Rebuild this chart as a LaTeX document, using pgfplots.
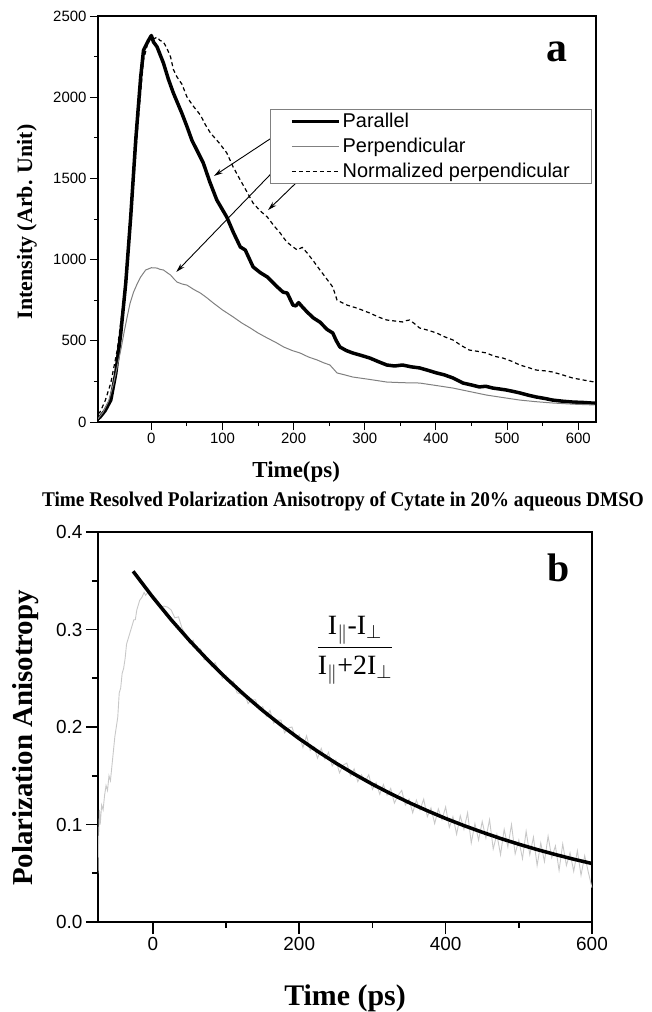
\RequirePackage{fix-cm}
\documentclass[border=0pt]{standalone}
\usepackage{amsmath}
\usepackage{fontspec}
\setmainfont{Liberation Sans}
\newfontfamily\tnr{Liberation Serif}
\newfontfamily\tnrc{Liberation Serif}[FakeStretch=0.92]
\usepackage{pgfplots}
\pgfplotsset{compat=1.18}
\usetikzlibrary{arrows.meta}

\definecolor{perpgray}{RGB}{128,128,128}
\definecolor{rawgray}{RGB}{200,200,200}

\begin{document}
\begin{tikzpicture}
\useasboundingbox (0,0) rectangle (652bp,-1012bp);

% ---------------- panel a ----------------
\begin{axis}[
  at={(98bp,-422bp)}, anchor=south west,
  scale only axis, width=498bp, height=406bp,
  xmin=-75, xmax=625, ymin=0, ymax=2500,
  xtick={0,100,...,600}, ytick={0,500,...,2500},
  minor x tick num=1, minor y tick num=1,
  xtick pos=left, ytick pos=left, tick align=outside,
  major tick length=8bp, minor tick length=4bp,
  every tick/.style={black, line width=1bp},
  axis line style={line width=1.3bp},
  /pgf/number format/1000 sep={},
  /pgf/number format/assume math mode=true,
  tick label style={font=\fontsize{15}{18}\selectfont},
  xlabel={Time(ps)},
  xlabel style={at={(axis description cs:0.398,0)}, anchor=base, yshift=-55bp,
    font=\tnr\bfseries\fontsize{23}{26}\selectfont},
  ylabel={Intensity (Arb. Unit)},
  ylabel style={at={(axis description cs:-0.1325,0.493)}, anchor=base,
    font=\tnr\bfseries\fontsize{22}{26}\selectfont},
  legend style={at={(0.345,0.771)}, anchor=north west, draw=perpgray,
    line width=0.8bp, inner xsep=20bp, inner ysep=2bp,
    font=\fontsize{20}{22}\selectfont, row sep=5bp},
  legend cell align=left,
  legend image code/.code={\draw[#1] (0bp,0bp) -- (47bp,0bp);},
]
\addplot[black, line width=3.5bp, line join=round] coordinates {
(-75,20) (-72,31) (-65,70) (-57,135) (-50,300) (-43,545) (-36,855) (-29,1265)
(-22,1735) (-15,2125) (-11,2290) (-4,2350) (0,2380) (3,2340) (8,2310) (17,2210)
(24,2110) (31,2025) (43,1900) (50,1820) (57,1735) (65,1665) (73,1595) (82,1480)
(92,1367) (106,1262) (115,1170) (125,1078) (132,1059) (143,955) (153,920) (163,893)
(175,840) (185,800) (191,794) (199,720) (203,715) (207,735) (212,710) (219,677)
(228,640) (237,615) (247,570) (255,548) (260,500) (265,462) (274,440) (283,425)
(295,410) (307,394) (320,370) (331,351) (342,345) (353,351) (365,340) (377,333)
(389,318) (401,302) (412,290) (424,271) (438,240) (450,228) (461,216) (470,220)
(480,209) (490,203) (499,197) (510,187) (518,179) (530,165) (541,154) (553,145)
(564,135) (578,128) (592,123) (608,120) (625,115)
};
\addlegendentry{Parallel}
\addplot[perpgray, line width=1bp] coordinates {
(-75,20) (-68,60) (-60,130) (-53,240) (-48,340) (-43,443) (-38,560) (-34,647)
(-30,730) (-25,800) (-20,850) (-15,893) (-8,936) (0,950) (8,948) (12,940)
(17,936) (22,920) (27,905) (32,880) (36,862) (43,850) (50,843) (60,815)
(69,794) (78,765) (87,733) (100,690) (115,647) (127,610) (139,579) (150,548)
(163,517) (175,490) (186,462) (198,440) (209,425) (221,400) (233,382) (242,365)
(251,351) (261,302) (272,290) (283,277) (307,262) (331,246) (354,242) (377,240)
(400,225) (424,209) (447,188) (471,166) (495,150) (518,135) (541,125) (564,117)
(592,110) (623,105)
};
\addlegendentry{Perpendicular}
\addplot[black, line width=1.2bp, dash pattern=on 4bp off 3bp] coordinates {
(-75,50) (-72,62) (-65,130) (-57,240) (-48,443) (-39,751) (-32,1060) (-25,1472)
(-18,1878) (-11,2230) (-4,2350) (0,2370) (4,2360) (8,2370) (12,2350) (17,2340)
(22,2300) (27,2248) (31,2170) (36,2125) (43,2080) (50,2002) (58,1950) (69,1890)
(76,1830) (83,1780) (95,1720) (106,1657) (115,1570) (125,1490) (134,1420) (143,1348)
(153,1300) (163,1262) (172,1210) (181,1164) (190,1110) (199,1078) (205,1060) (212,1075)
(219,1041) (228,990) (237,936) (245,890) (255,831) (261,751) (268,735) (275,720)
(290,700) (307,671) (320,645) (331,628) (342,622) (353,616) (358,624) (363,628)
(370,605) (377,579) (389,565) (401,548) (412,525) (424,505) (436,470) (447,443)
(459,435) (471,425) (482,405) (494,394) (506,375) (518,351) (530,335) (541,320)
(553,315) (564,308) (578,290) (592,271) (608,258) (623,246)
};
\addlegendentry{Normalized perpendicular}
\draw[-{Stealth[length=9bp,width=5bp]}, line width=0.9bp] (axis cs:190,1810) -- (axis cs:88,1515);
\draw[-{Stealth[length=9bp,width=5bp]}, line width=0.9bp] (axis cs:195,1650) -- (axis cs:35,924);
\draw[-{Stealth[length=9bp,width=5bp]}, line width=0.9bp] (axis cs:209,1496) -- (axis cs:164,1305);
\node[font=\tnr\bfseries\fontsize{42}{44}\selectfont] at (axis description cs:0.922,0.911) {a};
\end{axis}

% ---------------- panel b ----------------
\begin{axis}[
  at={(98bp,-922bp)}, anchor=south west,
  scale only axis, width=494bp, height=390bp,
  xmin=-75, xmax=600, ymin=0, ymax=0.4,
  xtick={0,200,...,600}, ytick={0,0.1,...,0.4},
  minor x tick num=1, minor y tick num=1,
  xtick pos=left, ytick pos=left, tick align=outside,
  major tick length=12bp, minor tick length=6bp,
  every tick/.style={black, line width=1.6bp},
  axis line style={line width=2bp},
  yticklabel style={/pgf/number format/.cd, fixed, fixed zerofill, precision=1},
  /pgf/number format/assume math mode=true,
  tick label style={font=\fontsize{19}{22}\selectfont},
  title={Time Resolved Polarization Anisotropy of Cytate in 20\% aqueous DMSO},
  title style={at={(axis description cs:0.496,1)}, anchor=base, yshift=20bp,
    font=\tnrc\bfseries\fontsize{21}{23}\selectfont},
  xlabel={Time (ps)},
  xlabel style={at={(axis description cs:0.5,0)}, anchor=base, yshift=-83bp,
    font=\tnr\bfseries\fontsize{30}{32}\selectfont},
  ylabel={Polarization Anisotropy},
  ylabel style={at={(axis description cs:-0.1316,0.472)}, anchor=base,
    font=\tnr\bfseries\fontsize{29}{32}\selectfont},
]
\addplot[rawgray, line width=0.9bp] coordinates {
(-75,0.050) (-74,0.090) (-73,0.115) (-72,0.100) (-70,0.120) (-68,0.115) (-66,0.130)
(-64,0.140) (-62,0.135) (-60,0.150) (-58,0.145) (-56,0.160) (-54,0.175) (-52,0.190)
(-50,0.200) (-48,0.210) (-46,0.235) (-44,0.240) (-42,0.255) (-40,0.260) (-38,0.270)
(-36,0.285) (-34,0.290) (-32,0.295) (-30,0.300) (-28,0.305) (-26,0.310) (-24,0.310)
(-22,0.320) (-20,0.325) (-18,0.330) (-15,0.333) (-12,0.338) (-10,0.335) (-7,0.338)
(-4,0.336) (0,0.335)
(5,0.331) (10,0.322) (15,0.324) (20,0.323) (25,0.320) (30,0.312) (35,0.313) (40,0.301)
(45,0.295) (50,0.286) (55,0.289) (60,0.279) (65,0.280) (70,0.269) (75,0.271) (80,0.262)
(85,0.266) (90,0.258) (95,0.250) (100,0.253) (105,0.245) (110,0.247) (115,0.235) (120,0.234)
(125,0.235) (130,0.224) (135,0.228) (140,0.228) (145,0.218) (150,0.221) (155,0.211) (160,0.217)
(165,0.204) (170,0.207) (175,0.207) (180,0.194) (185,0.199) (190,0.200) (195,0.189) (200,0.192)
(205,0.179) (210,0.191) (215,0.176) (220,0.180) (225,0.168) (230,0.178) (235,0.167) (240,0.174)
(245,0.160) (250,0.166) (255,0.153) (260,0.161) (265,0.163) (270,0.150) (275,0.157) (280,0.144)
(285,0.151) (290,0.144) (295,0.151) (300,0.136) (305,0.143) (310,0.131) (315,0.141) (320,0.130)
(325,0.137) (330,0.122) (335,0.130) (340,0.135) (345,0.120) (350,0.126) (355,0.112) (360,0.125)
(365,0.115) (370,0.126) (375,0.108) (380,0.117) (385,0.101) (390,0.116) (395,0.105) (400,0.118)
(405,0.097) (410,0.108) (415,0.090) (420,0.109) (425,0.095) (430,0.112) (435,0.081) (440,0.101)
(445,0.084) (450,0.103) (455,0.086) (460,0.105) (465,0.075) (470,0.090) (475,0.069) (480,0.095)
(485,0.077) (490,0.100) (495,0.070) (500,0.084) (505,0.065) (510,0.093) (515,0.069) (520,0.087)
(525,0.058) (530,0.081) (535,0.062) (540,0.088) (545,0.066) (550,0.078) (555,0.053) (560,0.080)
(565,0.058) (570,0.071) (575,0.052) (580,0.073) (585,0.048) (590,0.068) (595,0.051) (600,0.035)
};
\addplot[black, line width=3.5bp] coordinates {
(-27,0.3597) (0,0.3330) (25,0.3100) (50,0.2887) (75,0.2688) (100,0.2502) (125,0.2330)
(150,0.2169) (175,0.2020) (200,0.1880) (225,0.1751) (250,0.1630) (275,0.1518) (300,0.1413)
(325,0.1316) (350,0.1225) (375,0.1141) (400,0.1062) (425,0.0989) (450,0.0921) (475,0.0857)
(500,0.0798) (525,0.0743) (550,0.0692) (575,0.0644) (600,0.0600)
};
\node[font=\tnr\bfseries\fontsize{40}{42}\selectfont] at (axis description cs:0.933,0.908) {b};
\node[font=\tnr\fontsize{28}{32}\selectfont] at (axis description cs:0.52,0.697)
  {$\dfrac{\text{I}_{\|}\text{-I}_{\perp}}{\text{I}_{\|}\text{+2I}_{\perp}}$};
\end{axis}
\end{tikzpicture}
\end{document}
